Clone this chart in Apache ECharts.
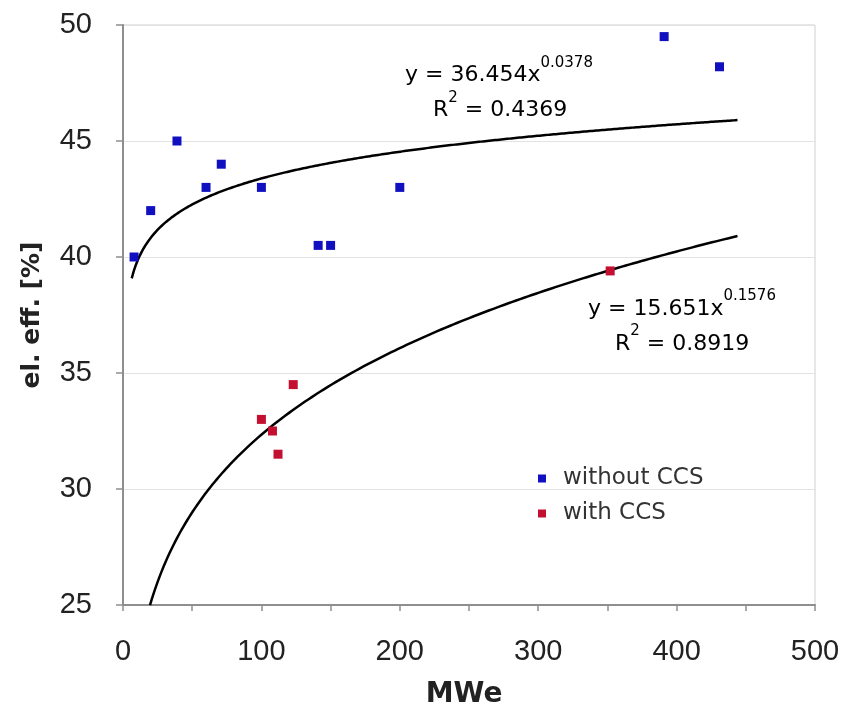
<!DOCTYPE html>
<html><head><meta charset="utf-8">
<script src="https://cdn.jsdelivr.net/npm/echarts@6/dist/echarts.min.js"></script>
<style>html,body{margin:0;padding:0;background:#fff}#c{width:843px;height:709px}</style>
</head><body><div id="c"></div>
<script>
// ---- data ----
const withoutCcsX = [8, 20, 39, 60, 71, 100, 141, 150, 200, 391, 431];
const withoutCcsY = [40, 42, 45, 43, 44, 43, 40.5, 40.5, 43, 49.5, 48.2];
const withCcsX = [100, 108, 112, 123, 352];
const withCcsY = [33, 32.5, 31.5, 34.5, 39.4];
// power trendlines y = a * x^b as printed on the chart
const trendNames = ['trend without CCS', 'trend with CCS'];
const trendA = [36.454, 15.651];
const trendB = [0.0378, 0.1576];
const trendFrom = [6.3, 19.5];
const trendTo = [444, 444];
const trendLabels = [['36.454', '0.0378', '0.4369'], ['15.651', '0.1576', '0.8919']];
const xTicks = [0, 100, 200, 300, 400, 500];
const yTicks = [25, 30, 35, 40, 45, 50];
const seriesNames = ['without CCS', 'with CCS'];

function pairs(xs, ys) { return xs.map((x, i) => [x, ys[i]]); }
function trendPoints(k) {
  const pts = [];
  const n = 300;
  for (let i = 0; i <= n; i++) {
    const x = trendFrom[k] + (trendTo[k] - trendFrom[k]) * i / n;
    pts.push([x, trendA[k] * Math.pow(x, trendB[k])]);
  }
  return pts;
}

const FONT = 'DejaVu Sans';
const TICKFONT = 'Liberation Sans';
const chart = echarts.init(document.getElementById('c'), null, {renderer: 'canvas'});
const option = {
  animation: false,
  backgroundColor: '#fff',
  textStyle: {fontFamily: FONT},
  grid: {left: 123, right: 28, top: 25, bottom: 104, show: true, borderColor: '#cfcfcf', borderWidth: 1},
  legend: {
    data: seriesNames, orient: 'vertical', left: 533, top: 462,
    icon: 'rect', itemWidth: 8, itemHeight: 8, itemGap: 12,
    textStyle: {fontFamily: FONT, fontSize: 23, color: '#333', lineHeight: 23, padding: [0, 0, 0, 12]}
  },
  xAxis: {
    type: 'value', min: xTicks[0], max: xTicks[xTicks.length - 1], interval: 50,
    axisLine: {show: true, lineStyle: {color: '#8f8f8f', width: 2}},
    axisTick: {show: true, length: 6, lineStyle: {color: '#8f8f8f', width: 1.5}},
    splitLine: {show: false},
    axisLabel: {
      margin: 32, fontSize: 29, color: '#222', fontFamily: TICKFONT,
      formatter: v => (xTicks.indexOf(v) >= 0 ? String(v) : '')
    }
  },
  yAxis: {
    type: 'value', min: yTicks[0], max: yTicks[yTicks.length - 1], interval: 5,
    axisLine: {show: true, lineStyle: {color: '#8f8f8f', width: 2}},
    axisTick: {show: true, length: 7, lineStyle: {color: '#8f8f8f', width: 1.5}},
    splitLine: {show: true, lineStyle: {color: '#e3e3e3', width: 1}},
    axisLabel: {margin: 31, fontSize: 29, color: '#222', fontFamily: TICKFONT}
  },
  series: [
    {name: trendNames[0], type: 'line', data: trendPoints(0), showSymbol: false, symbol: 'none',
     lineStyle: {color: '#000', width: 2.5}, z: 2, silent: true},
    {name: trendNames[1], type: 'line', data: trendPoints(1), showSymbol: false, symbol: 'none',
     lineStyle: {color: '#000', width: 2.5}, z: 2, silent: true},
    {name: seriesNames[0], type: 'scatter', data: pairs(withoutCcsX, withoutCcsY), symbol: 'rect', symbolSize: 9,
     itemStyle: {color: '#1010c0', opacity: 1}, z: 3},
    {name: seriesNames[1], type: 'scatter', data: pairs(withCcsX, withCcsY), symbol: 'rect', symbolSize: 9,
     itemStyle: {color: '#c41030', opacity: 1}, z: 3}
  ]
};
chart.setOption(option);

const rich = {
  b: {fontFamily: FONT, fontSize: 22, lineHeight: 31, verticalAlign: 'bottom', color: '#3a3a3a'},
  s: {fontFamily: FONT, fontSize: 15, lineHeight: 15, verticalAlign: 'top', color: '#3a3a3a'}
};
function eqText(x, baseCenterY, k) {
  return [
    {type: 'text', x: x, y: baseCenterY - 20, z: 10,
     style: {text: '{b|y = ' + trendLabels[k][0] + 'x}{s|' + trendLabels[k][1] + '}', rich: rich, align: 'left', verticalAlign: 'top'}},
  ];
}
function r2Text(x, baseCenterY, k) {
  return [
    {type: 'text', x: x, y: baseCenterY - 20, z: 10,
     style: {text: '{b|R}{s|2}{b| = ' + trendLabels[k][2] + '}', rich: rich, align: 'left', verticalAlign: 'top'}}
  ];
}
chart.setOption({
  graphic: [].concat(
    eqText(405, 75.5, 0), r2Text(433, 110.5, 0),
    eqText(588, 309, 1), r2Text(615, 344, 1),
    [
      {type: 'text', x: 32, y: 315, rotation: Math.PI / 2, z: 10,
       style: {text: 'el. eff. [%]', fontFamily: FONT, fontSize: 25, fontWeight: 'bold', fill: '#222', align: 'center', verticalAlign: 'middle'}},
      {type: 'text', x: 464, y: 695, z: 10,
       style: {text: 'MWe', fontFamily: FONT, fontSize: 28, fontWeight: 'bold', fill: '#222', align: 'center', verticalAlign: 'middle'}}
    ]
  )
});
</script>
</body></html>
